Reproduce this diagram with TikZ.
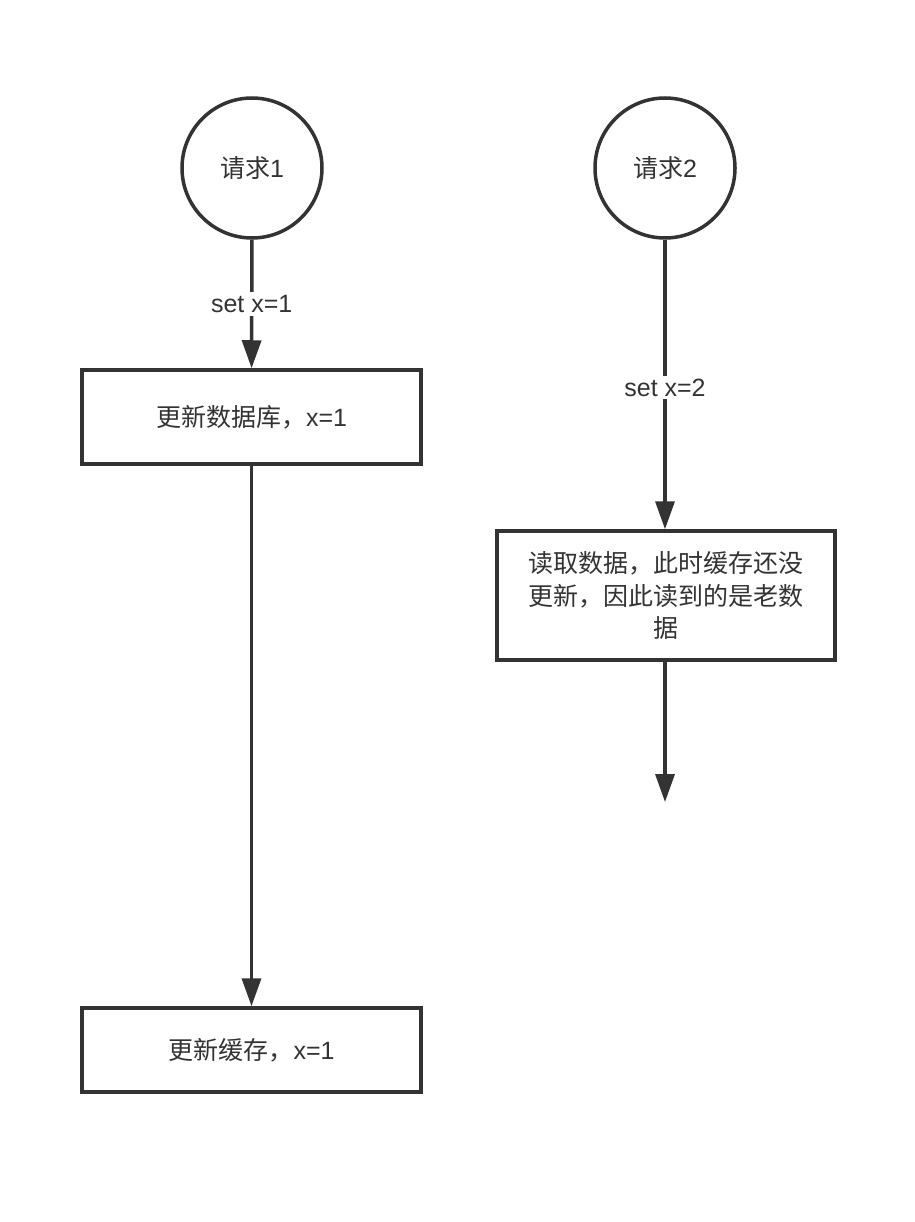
\documentclass[tikz,border=0pt]{standalone}
\usepackage{fontspec}
\setmainfont{Liberation Sans}
\newfontfamily\cjk{Noto Sans CJK SC}
\usetikzlibrary{arrows.meta}
\definecolor{ink}{HTML}{333333}
\tikzset{
  every node/.style={font=\fontsize{25}{32.5}\selectfont, text=ink},
  circ/.style={circle, draw=ink, line width=3.5pt, minimum size=140pt, inner sep=0pt},
  boxnode/.style={rectangle, draw=ink, line width=3.5pt, inner sep=0pt, align=center},
  conn/.style={draw=ink, line width=3.5pt, -{Triangle[width=19pt,length=28pt]}},
  lbl/.style={fill=white, inner sep=3pt}
}
\begin{document}
\begin{tikzpicture}[x=1pt,y=-1pt]
\useasboundingbox (0,0) rectangle (914,1222);
\fill[white] (0,0) rectangle (914,1222);
\node[circ] (r1) at (252,168) {{\cjk 请求}1};
\node[circ] (r2) at (665,168) {{\cjk 请求}2};
\node[boxnode, minimum width=339pt, minimum height=94pt] (b1) at (251.5,417) {{\cjk 更新数据库，}x=1};
\node[boxnode, minimum width=339pt, minimum height=84pt] (b3) at (251.5,1050) {{\cjk 更新缓存，}x=1};
\node[boxnode, minimum width=338pt, minimum height=129pt, text width=320pt] (b2) at (666,595.5) {\cjk 读取数据，此时缓存还没\\更新，因此读到的是老数\\据};
\coordinate (e2) at (665,802);
\draw[conn] (r1) -- node[lbl, pos=0.5] {set x=1} (b1);
\draw[conn] (b1) -- (b3);
\draw[conn] (r2) -- node[lbl, pos=0.51] {set x=2} (r2 |- b2.north);
\draw[conn] (b2.south -| e2) -- (e2);
\end{tikzpicture}
\end{document}
